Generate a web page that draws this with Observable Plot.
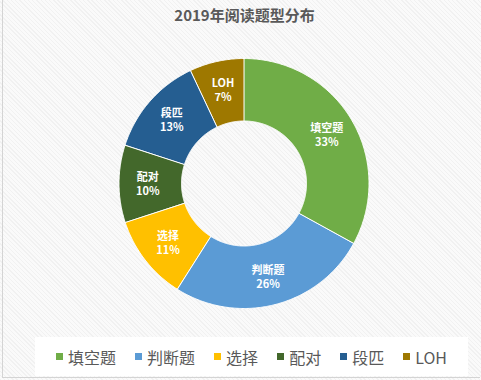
<!DOCTYPE html>
<html>
<head>
<meta charset="utf-8">
<script src="https://cdn.jsdelivr.net/npm/d3@7"></script>
<script src="https://cdn.jsdelivr.net/npm/@observablehq/plot@0.6"></script>
<style>
  body { margin: 0; }
  #wrap {
    position: relative; width: 481px; height: 380px; overflow: hidden;
    background: repeating-linear-gradient(45deg, #f1f1f1 0px, #f1f1f1 1px, #fafafa 1px, #fafafa 3px);
    font-family: "Noto Sans CJK SC", "Noto Sans", sans-serif;
  }
  #border { position: absolute; left: 2px; top: 0; width: 477px; height: 377px; border-left: 1px solid #d4d4d4; border-bottom: 1px solid #d4d4d4; }
  #title {
    position: absolute; left: 4px; top: 0; width: 481px; height: 30px; line-height: 30px;
    text-align: center; font-size: 15px; font-weight: bold; color: #595959;
  }
  #chart { position: absolute; left: 0; top: 30px; }
  #legend {
    position: absolute; left: 35px; top: 337px; width: 433px; height: 39px; background: #fff;
    display: flex; justify-content: center; align-items: center; font-size: 16px; color: #595959;
  }
  .item { display: flex; align-items: center; margin: 0 9.5px; white-space: nowrap; }
  .sw { width: 7px; height: 7px; margin-right: 5px; }
</style>
</head>
<body>
<div id="wrap">
  <div id="border"></div>
  <div id="title"></div>
  <div id="chart"></div>
  <div id="legend"></div>
</div>
<script>
const title = "2019年阅读题型分布";
const categories = ["填空题", "判断题", "选择", "配对", "段匹", "LOH"];
const shares = [33, 26, 11, 10, 13, 7];
const percentLabels = ["33%", "26%", "11%", "10%", "13%", "7%"];
const colors = ["#70AD47", "#5B9BD5", "#FFC000", "#43682B", "#255E91", "#9E7800"];

document.getElementById("title").textContent = title;

const innerR = 0.5, outerR = 1, labelR = 0.77;
const pt = (a, r) => [Math.sin(a) * r, -Math.cos(a) * r];
const arcs = d3.pie().sort(null).value(d => d)(shares);

const features = arcs.map((a, i) => {
  const n = Math.max(4, Math.ceil((a.endAngle - a.startAngle) / 0.01));
  const ring = [];
  for (let k = 0; k <= n; k++) ring.push(pt(a.startAngle + (a.endAngle - a.startAngle) * k / n, outerR));
  for (let k = n; k >= 0; k--) ring.push(pt(a.startAngle + (a.endAngle - a.startAngle) * k / n, innerR));
  ring.push(ring[0]);
  return {type: "Feature", properties: {cat: categories[i]}, geometry: {type: "Polygon", coordinates: [ring]}};
});

const labelData = arcs.map((a, i) => {
  const m = (a.startAngle + a.endAngle) / 2;
  const [x, y] = pt(m, labelR);
  return {x, y, text: categories[i] + "\n" + percentLabels[i]};
});

const chart = Plot.plot({
  width: 481,
  height: 300,
  marginTop: 28,
  marginBottom: 22,
  marginLeft: 118,
  marginRight: 112,
  style: {background: "transparent", overflow: "visible"},
  projection: {type: "identity", domain: {type: "MultiPoint", coordinates: [[-1, -1], [1, 1]]}},
  color: {domain: categories, range: colors},
  marks: [
    Plot.geo(features, {fill: d => d.properties.cat, stroke: "white", strokeWidth: 1}),
    Plot.text(labelData, {x: "x", y: "y", text: "text", fill: "white", fontSize: 11, fontWeight: "bold",
      lineHeight: 1.25, fontFamily: "Noto Sans CJK SC"})
  ]
});
document.getElementById("chart").appendChild(chart);

const legend = document.getElementById("legend");
categories.forEach((c, i) => {
  const item = document.createElement("div");
  item.className = "item";
  const sw = document.createElement("span");
  sw.className = "sw";
  sw.style.background = colors[i];
  const t = document.createElement("span");
  t.textContent = c;
  item.appendChild(sw);
  item.appendChild(t);
  legend.appendChild(item);
});
</script>
</body>
</html>
